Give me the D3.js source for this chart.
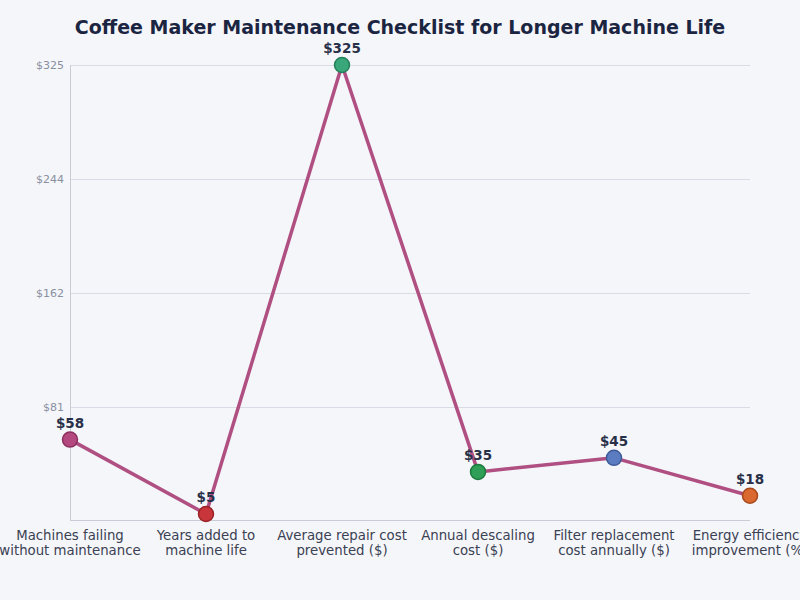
<!DOCTYPE html>
<html>
<head>
<meta charset="utf-8">
<script src="https://cdn.jsdelivr.net/npm/d3@7"></script>
<style>
  body { margin: 0; background: #f5f6fa; }
  svg { display: block; font-family: "DejaVu Sans", sans-serif; }
</style>
</head>
<body>
<div id="chart"></div>
<script>
const categories = [
  ["Machines failing", "without maintenance"],
  ["Years added to", "machine life"],
  ["Average repair cost", "prevented ($)"],
  ["Annual descaling", "cost ($)"],
  ["Filter replacement", "cost annually ($)"],
  ["Energy efficiency", "improvement (%)"]
];
const values = [58, 5, 325, 35, 45, 18];
const dotColors = ["#b4497f", "#c8363c", "#3aa77a", "#2f9e56", "#5b7cc0", "#d9692e"];
const dotStrokes = ["#8c2f5e", "#9a2226", "#23805a", "#1e7a3e", "#3f5c9a", "#a8481c"];
const tickValues = [81.25, 162.5, 243.75, 325];
const tickLabels = ["$81", "$162", "$244", "$325"];

const width = 800, height = 600;
const svg = d3.select("#chart").append("svg")
  .attr("width", width)
  .attr("height", height);

svg.append("rect").attr("width", width).attr("height", height).attr("fill", "#f5f6fa");

const x = d3.scalePoint()
  .domain(d3.range(categories.length))
  .range([70, 750]);

const y = d3.scaleLinear()
  .domain([0, 325])
  .range([521, 65]);

// title
svg.append("text")
  .attr("x", 400)
  .attr("y", 34)
  .attr("text-anchor", "middle")
  .attr("font-size", 19)
  .attr("font-weight", "bold")
  .attr("fill", "#1b2541")
  .text("Coffee Maker Maintenance Checklist for Longer Machine Life");

// grid lines
svg.selectAll(".grid")
  .data(tickValues)
  .enter()
  .append("line")
  .attr("x1", 70)
  .attr("x2", 750)
  .attr("y1", d => Math.round(y(d)) + 0.5)
  .attr("y2", d => Math.round(y(d)) + 0.5)
  .attr("stroke", "#d9dce4")
  .attr("stroke-width", 1);

// tick labels
svg.selectAll(".ytick")
  .data(tickValues)
  .enter()
  .append("text")
  .attr("x", 64)
  .attr("y", d => y(d) + 4)
  .attr("text-anchor", "end")
  .attr("font-size", 11)
  .attr("fill", "#8a8fa0")
  .text((d, i) => tickLabels[i]);

// axis lines
svg.append("line")
  .attr("x1", 70.5).attr("x2", 70.5)
  .attr("y1", 65).attr("y2", 520)
  .attr("stroke", "#c9ccd4").attr("stroke-width", 1);
svg.append("line")
  .attr("x1", 70).attr("x2", 750)
  .attr("y1", 520.5).attr("y2", 520.5)
  .attr("stroke", "#c9ccd4").attr("stroke-width", 1);

// category labels
const cat = svg.selectAll(".cat")
  .data(categories)
  .enter()
  .append("text")
  .attr("text-anchor", "middle")
  .attr("font-size", 13.3)
  .attr("fill", "#3a4152");
cat.append("tspan")
  .attr("x", (d, i) => x(i))
  .attr("y", 540)
  .text(d => d[0]);
cat.append("tspan")
  .attr("x", (d, i) => x(i))
  .attr("y", 555)
  .text(d => d[1]);

// line
const line = d3.line()
  .x((d, i) => x(i))
  .y(d => y(d));

svg.append("path")
  .datum(values)
  .attr("d", line)
  .attr("fill", "none")
  .attr("stroke", "#b04f82")
  .attr("stroke-width", 3.5)
  .attr("stroke-linejoin", "round");

// dots
svg.selectAll(".dot")
  .data(values)
  .enter()
  .append("circle")
  .attr("cx", (d, i) => x(i))
  .attr("cy", d => y(d))
  .attr("r", 7.5)
  .attr("fill", (d, i) => dotColors[i])
  .attr("stroke", (d, i) => dotStrokes[i])
  .attr("stroke-width", 1.5);

// value labels
svg.selectAll(".val")
  .data(values)
  .enter()
  .append("text")
  .attr("x", (d, i) => x(i))
  .attr("y", d => y(d) - 12)
  .attr("text-anchor", "middle")
  .attr("font-size", 13.5)
  .attr("font-weight", "bold")
  .attr("fill", "#283048")
  .text(d => "$" + d);
</script>
</body>
</html>
